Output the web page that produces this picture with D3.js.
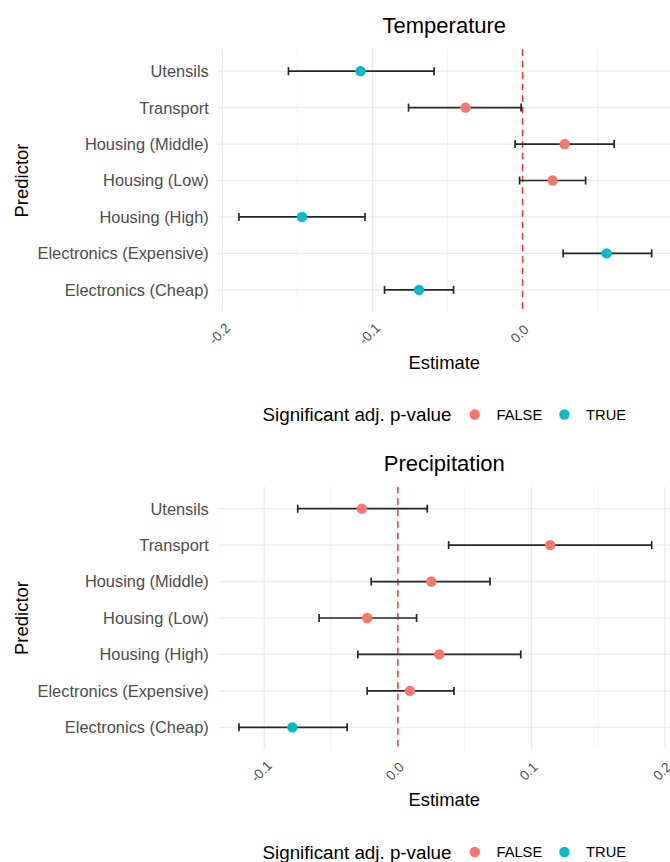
<!DOCTYPE html>
<html>
<head>
<meta charset="utf-8">
<script src="https://cdn.jsdelivr.net/npm/d3@7"></script>
<style>
  html, body { margin: 0; padding: 0; background: #fff; }
  svg { display: block; font-family: "Liberation Sans", Arial, Helvetica, sans-serif; }
</style>
</head>
<body>
<div id="chart"></div>
<script>
// predictors, bottom to top as in the plot
const predictors = ['Electronics (Cheap)', 'Electronics (Expensive)', 'Housing (High)',
    'Housing (Low)', 'Housing (Middle)', 'Transport', 'Utensils'];

// Temperature model
const tempEstimate = [-0.069, 0.056, -0.147, 0.020, 0.028, -0.038, -0.108];
const tempLow = [-0.092, 0.027, -0.189, -0.002, -0.005, -0.076, -0.156];
const tempHigh = [-0.046, 0.086, -0.105, 0.042, 0.061, -0.001, -0.059];
const tempSignificant = [true, true, true, false, false, false, true];
const tempTicks = [-0.2, -0.1, 0.0];

// Precipitation model
const precEstimate = [-0.079, 0.009, 0.031, -0.023, 0.025, 0.114, -0.027];
const precLow = [-0.119, -0.023, -0.030, -0.059, -0.020, 0.038, -0.075];
const precHigh = [-0.038, 0.042, 0.092, 0.014, 0.069, 0.190, 0.022];
const precSignificant = [true, false, false, false, false, false, false];
const precTicks = [-0.1, 0.0, 0.1, 0.2];

const legendLabels = ['FALSE', 'TRUE'];
const legendColors = ['#F8766D', '#00BFC4'];

const width = 670;
const height = 862;
const PANEL_H = 437.5;
const margin = { top: 49.3, left: 218.3, right: 672.3, bottom: 311.7 };

const fmt = (v) => d3.format('.1f')(v).replace('\u2212', '-');
const color = d3.scaleOrdinal().domain([false, true]).range(legendColors);

const svg = d3.select('#chart').append('svg')
    .attr('width', width).attr('height', height);

function drawPanel(offsetY, title, estimate, low, high, significant, ticks) {
    const g = svg.append('g').attr('transform', 'translate(0,' + offsetY + ')');
    const rows = predictors.map((p, i) => ({
        key: p, est: estimate[i], lo: low[i], hi: high[i], sig: significant[i]
    }));

    // ggplot-style 5% expansion
    const lo = d3.min(low), hi = d3.max(high);
    const pad = (hi - lo) * 0.05;
    const x = d3.scaleLinear().domain([lo - pad, hi + pad]).range([margin.left, margin.right]);
    const y = d3.scalePoint().domain(predictors.slice().reverse())
        .range([margin.top, margin.bottom]).padding(0.6);

    const dom = x.domain();
    const minor = [];
    ticks.forEach((t) => {
        [t - 0.05, t + 0.05].forEach((m) => {
            m = Math.round(m * 1000) / 1000;
            if (m > dom[0] && m < dom[1] && !ticks.includes(m) && !minor.includes(m)) minor.push(m);
        });
    });

    // grid
    g.append('g').selectAll('line.minor').data(minor).enter().append('line')
        .attr('x1', (d) => x(d)).attr('x2', (d) => x(d))
        .attr('y1', margin.top).attr('y2', margin.bottom)
        .attr('stroke', '#efefef').attr('stroke-width', 0.8);
    g.append('g').selectAll('line.major').data(ticks).enter().append('line')
        .attr('x1', (d) => x(d)).attr('x2', (d) => x(d))
        .attr('y1', margin.top).attr('y2', margin.bottom)
        .attr('stroke', '#ebebeb').attr('stroke-width', 1.2);
    g.append('g').selectAll('line.hgrid').data(predictors).enter().append('line')
        .attr('x1', margin.left).attr('x2', margin.right)
        .attr('y1', (d) => y(d)).attr('y2', (d) => y(d))
        .attr('stroke', '#ebebeb').attr('stroke-width', 1.2);

    // zero reference line
    g.append('line')
        .attr('x1', x(0)).attr('x2', x(0))
        .attr('y1', margin.top).attr('y2', margin.bottom)
        .attr('stroke', '#ff2a2a').attr('stroke-width', 1.4)
        .attr('stroke-dasharray', '6.5,5');

    // error bars
    const bars = g.append('g').selectAll('g.bar').data(rows).enter().append('g')
        .attr('stroke', '#262626').attr('stroke-width', 1.7);
    bars.append('line')
        .attr('x1', (d) => x(d.lo)).attr('x2', (d) => x(d.hi))
        .attr('y1', (d) => y(d.key)).attr('y2', (d) => y(d.key));
    bars.append('line')
        .attr('x1', (d) => x(d.lo)).attr('x2', (d) => x(d.lo))
        .attr('y1', (d) => y(d.key) - 4).attr('y2', (d) => y(d.key) + 4);
    bars.append('line')
        .attr('x1', (d) => x(d.hi)).attr('x2', (d) => x(d.hi))
        .attr('y1', (d) => y(d.key) - 4).attr('y2', (d) => y(d.key) + 4);

    // points
    g.append('g').selectAll('circle').data(rows).enter().append('circle')
        .attr('cx', (d) => x(d.est)).attr('cy', (d) => y(d.key))
        .attr('r', 5.2).attr('fill', (d) => color(d.sig));

    // y labels
    g.append('g').selectAll('text').data(predictors).enter().append('text')
        .attr('x', margin.left - 9.5).attr('y', (d) => y(d)).attr('dy', '0.36em')
        .attr('text-anchor', 'end').attr('font-size', '16.4px').attr('fill', '#4d4d4d')
        .text((d) => d);

    // x tick labels, rotated
    g.append('g').selectAll('text').data(ticks).enter().append('text')
        .attr('transform', (d) => 'translate(' + (x(d) - 3) + ',' + (margin.bottom + 22) + ') rotate(-45)')
        .attr('dy', '0.35em').attr('text-anchor', 'middle')
        .attr('font-size', '13.6px').attr('fill', '#4d4d4d')
        .text(fmt);

    const cx = (margin.left + margin.right) / 2;

    g.append('text')
        .attr('x', cx - 1).attr('y', 33.3).attr('text-anchor', 'middle')
        .attr('font-size', '22px').attr('fill', '#000')
        .text(title);

    g.append('text')
        .attr('x', cx - 1).attr('y', margin.bottom + 56.8).attr('text-anchor', 'middle')
        .attr('font-size', '18.4px').attr('fill', '#000')
        .text('Estimate');

    g.append('text')
        .attr('transform', 'translate(28.3,' + ((margin.top + margin.bottom) / 2) + ') rotate(-90)')
        .attr('text-anchor', 'middle').attr('font-size', '18.5px').attr('fill', '#000')
        .text('Predictor');

    // legend
    const leg = g.append('g');
    const legY = 414.5;
    const ltitle = leg.append('text')
        .attr('x', 0).attr('y', legY).attr('dy', '0.36em')
        .attr('font-size', '18.8px').attr('fill', '#000')
        .text('Significant adj. p-value');
    let pos = ltitle.node().getComputedTextLength() + 23.3;
    legendLabels.forEach((lab, i) => {
        leg.append('circle').attr('cx', pos).attr('cy', legY).attr('r', 5.2)
            .attr('fill', legendColors[i]);
        const t = leg.append('text')
            .attr('x', pos + 21.7).attr('y', legY).attr('dy', '0.36em')
            .attr('font-size', '14.7px').attr('fill', '#000')
            .text(lab);
        pos = pos + 21.7 + t.node().getComputedTextLength() + 22.2;
    });
    const legW = pos - 22.2;
    leg.attr('transform', 'translate(' + (cx - 1 - legW / 2) + ',0)');
}

drawPanel(0, 'Temperature', tempEstimate, tempLow, tempHigh, tempSignificant, tempTicks);
drawPanel(PANEL_H, 'Precipitation', precEstimate, precLow, precHigh, precSignificant, precTicks);
</script>
</body>
</html>
